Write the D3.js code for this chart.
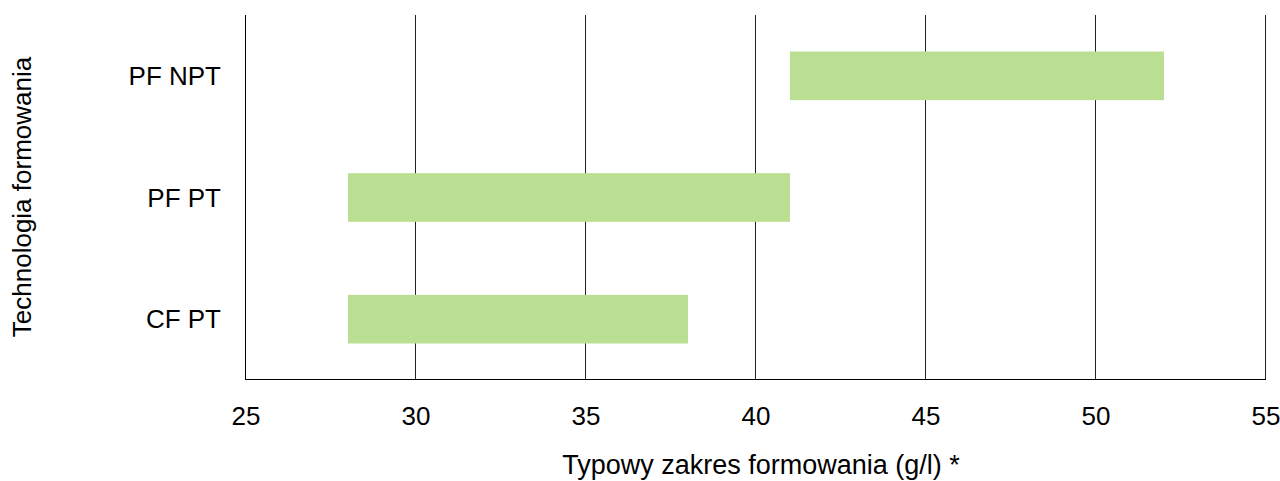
<!DOCTYPE html>
<html>
<head>
<meta charset="utf-8">
<script src="https://cdn.jsdelivr.net/npm/d3@7"></script>
<style>
  body { margin: 0; background: #fff; }
  text { font-family: "Liberation Sans", Arial, sans-serif; fill: #000; }
</style>
</head>
<body>
<svg id="chart" width="1280" height="481"></svg>
<script>
// dane
const categories = ['PF NPT', 'PF PT', 'CF PT'];
const rangeStart = [41, 28, 28];
const rangeEnd   = [52, 41, 38];
const xTicks     = [25, 30, 35, 40, 45, 50, 55];

const xTitle = 'Typowy zakres formowania (g/l) *';
const yTitle = 'Technologia formowania';

const plot = { left: 246, right: 1266, top: 15, bottom: 380 };
const fs = 26;

const svg = d3.select('#chart');

const x = d3.scaleLinear().domain([25, 55]).range([plot.left, plot.right]);
const y = d3.scaleBand().domain(categories).range([plot.top, plot.bottom]).paddingInner(0.6).paddingOuter(0.3);

// linie siatki
svg.append('g')
  .selectAll('line')
  .data(xTicks.slice(1))
  .join('line')
    .attr('x1', d => Math.round(x(d)) - 0.5)
    .attr('x2', d => Math.round(x(d)) - 0.5)
    .attr('y1', plot.top)
    .attr('y2', plot.bottom)
    .attr('stroke', '#222')
    .attr('stroke-width', 1);

// paski
const rows = categories.map((c, i) => ({ cat: c, a: rangeStart[i], b: rangeEnd[i] }));
svg.append('g')
  .selectAll('rect')
  .data(rows)
  .join('rect')
    .attr('x', d => x(d.a))
    .attr('y', d => y(d.cat))
    .attr('width', d => x(d.b) - x(d.a))
    .attr('height', y.bandwidth())
    .attr('fill', '#bbdf92');

// osie
svg.append('line')
  .attr('x1', plot.left - 0.5).attr('x2', plot.left - 0.5)
  .attr('y1', plot.top).attr('y2', plot.bottom)
  .attr('stroke', '#000');
svg.append('line')
  .attr('x1', plot.left - 0.5).attr('x2', plot.right)
  .attr('y1', plot.bottom - 0.5).attr('y2', plot.bottom - 0.5)
  .attr('stroke', '#000');

// etykiety osi X
svg.append('g')
  .selectAll('text')
  .data(xTicks)
  .join('text')
    .attr('x', d => x(d))
    .attr('y', 416)
    .attr('dy', '0.35em')
    .attr('text-anchor', 'middle')
    .attr('font-size', fs)
    .text(d => d);

// etykiety kategorii
svg.append('g')
  .selectAll('text')
  .data(categories)
  .join('text')
    .attr('x', 221)
    .attr('y', d => y(d) + y.bandwidth() / 2)
    .attr('dy', '0.35em')
    .attr('text-anchor', 'end')
    .attr('font-size', fs)
    .text(d => d);

// tytuły osi
svg.append('text')
  .attr('x', 761)
  .attr('y', 474)
  .attr('text-anchor', 'middle')
  .attr('font-size', 27)
  .text(xTitle);

svg.append('text')
  .attr('transform', 'translate(22,197) rotate(-90)')
  .attr('dy', '0.35em')
  .attr('text-anchor', 'middle')
  .attr('font-size', fs)
  .text(yTitle);
</script>
</body>
</html>
